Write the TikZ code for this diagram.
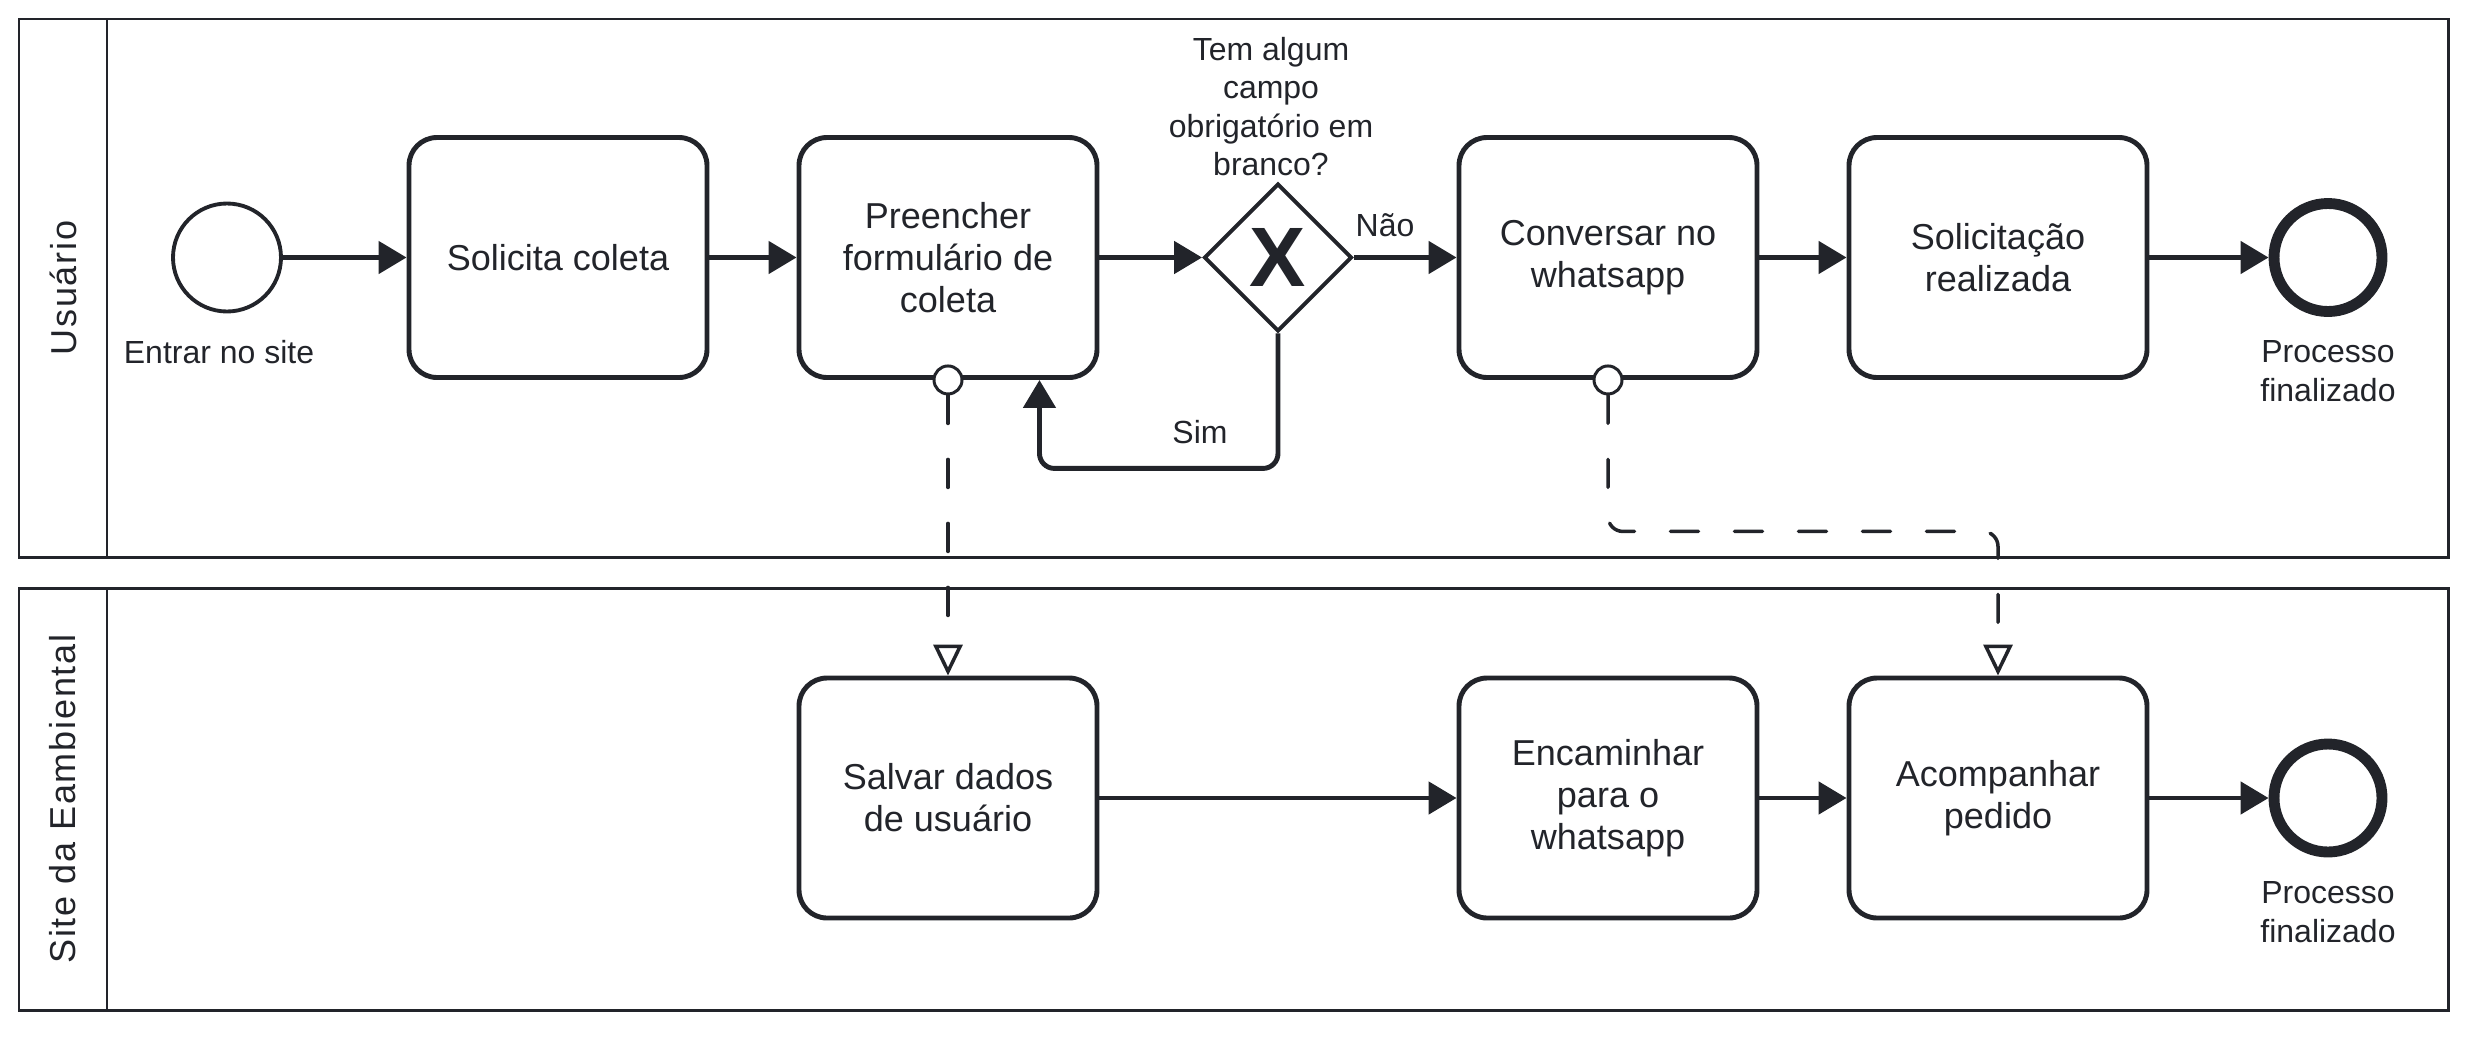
\documentclass[tikz,border=0pt]{standalone}
\usepackage{fontspec}
\setmainfont{Liberation Sans}
\usetikzlibrary{arrows.meta, shapes.geometric, positioning}
\definecolor{tinta}{HTML}{22242A}

\begin{document}
\begin{tikzpicture}[
    piscina/.style={draw=tinta, line width=0.85pt},
    raia/.style={text=tinta, rotate=90, font=\fontsize{10.25pt}{12pt}\selectfont\addfontfeature{LetterSpace=5}},
    tarefa/.style={draw=tinta, fill=white, line width=1.4pt, rounded corners=0.28cm,
      minimum width=2.98cm, minimum height=2.40cm, align=center, text=tinta,
      font=\fontsize{10.25pt}{11.95pt}\selectfont},
    inicio/.style={circle, draw=tinta, line width=1.1pt, minimum size=1.08cm, inner sep=0pt},
    fim/.style={circle, draw=tinta, line width=3.1pt, minimum size=1.08cm, inner sep=0pt},
    porta/.style={diamond, draw=tinta, line width=1.1pt, minimum width=1.48cm, minimum height=1.48cm,
      inner sep=0pt, text=tinta, font=\fontsize{24pt}{24pt}\selectfont\bfseries},
    anel/.style={circle, draw=tinta, fill=white, line width=0.85pt, minimum size=0.28cm, inner sep=0pt},
    rotulo/.style={text=tinta, align=center, inner sep=0pt, font=\fontsize{9.1pt}{10.9pt}\selectfont},
    seq/.style={draw=tinta, line width=1.4pt, -{Triangle[length=0.28cm, width=0.32cm]}},
    msg/.style={draw=tinta, line width=1pt, line cap=round, dash pattern=on 0.28cm off 0.36cm,
      -{Triangle[open, length=0.31cm, width=0.29cm, fill=white]}}
  ]
  \useasboundingbox (0,0) rectangle (24.65,-10.36);

  % raias
  \draw[piscina] (0.19,-0.19) rectangle (24.48,-5.57) (1.07,-0.19) -- (1.07,-5.57);
  \draw[piscina] (0.19,-5.88) rectangle (24.48,-10.10) (1.07,-5.88) -- (1.07,-10.10);
  \node[raia] at (0.63,-2.88) {Usuário};
  \node[raia] at (0.63,-7.99) {Site da Eambiental};

  % usuario
  \node[inicio] (inicio) at (2.27,-2.575) {};
  \node[rotulo, anchor=north] at (2.19,-3.40) {Entrar no site};
  \node[tarefa] (solicita) at (5.58,-2.575) {Solicita coleta};
  \node[tarefa] (preencher) at (9.48,-2.575) {Preencher\\formulário de\\coleta};
  \node[porta] (porta) at (12.78,-2.575) {X};
  \node[rotulo, anchor=north] at (12.71,-0.365) {Tem algum\\campo\\obrigatório em\\branco?};
  \node[tarefa] (conversar) at (16.08,-2.575) {Conversar no\\whatsapp};
  \node[tarefa] (solicitacao) at (19.98,-2.575) {Solicitação\\realizada};
  \node[fim] (fim1) at (23.28,-2.575) {};
  \node[rotulo, anchor=north] at (23.28,-3.40) {Processo\\finalizado};

  % site
  \node[tarefa] (salvar) at (9.48,-7.98) {Salvar dados\\de usuário};
  \node[tarefa] (encaminhar) at (16.08,-7.98) {Encaminhar\\para o\\whatsapp};
  \node[tarefa] (acompanhar) at (19.98,-7.98) {Acompanhar\\pedido};
  \node[fim] (fim2) at (23.28,-7.98) {};
  \node[rotulo, anchor=north] at (23.28,-8.81) {Processo\\finalizado};

  \foreach \a/\b in {inicio/solicita, solicita/preencher, preencher/porta, conversar/solicitacao,
      solicitacao/fim1, salvar/encaminhar, encaminhar/acompanhar, acompanhar/fim2}
    \draw[seq] (\a) -- (\b);
  \draw[seq] (porta) -- (conversar);
  \node[rotulo, anchor=base] at (13.85,-2.36) {Não};
  \draw[seq, rounded corners=0.15cm] (porta.south) -- ++(0,-1.35) -| ([xshift=-0.6cm]preencher.south east);
  \node[rotulo, anchor=base] at (12.00,-4.43) {Sim};

  % mensagens
  \node[anel] (m1) at (preencher.south) {};
  \node[anel] (m2) at (conversar.south) {};
  \draw[msg] (m1.south) -- (salvar.north);
  \draw[msg, rounded corners=0.15cm] (m2.south) -- ++(0,-1.36) -| (acompanhar.north);
\end{tikzpicture}
\end{document}
